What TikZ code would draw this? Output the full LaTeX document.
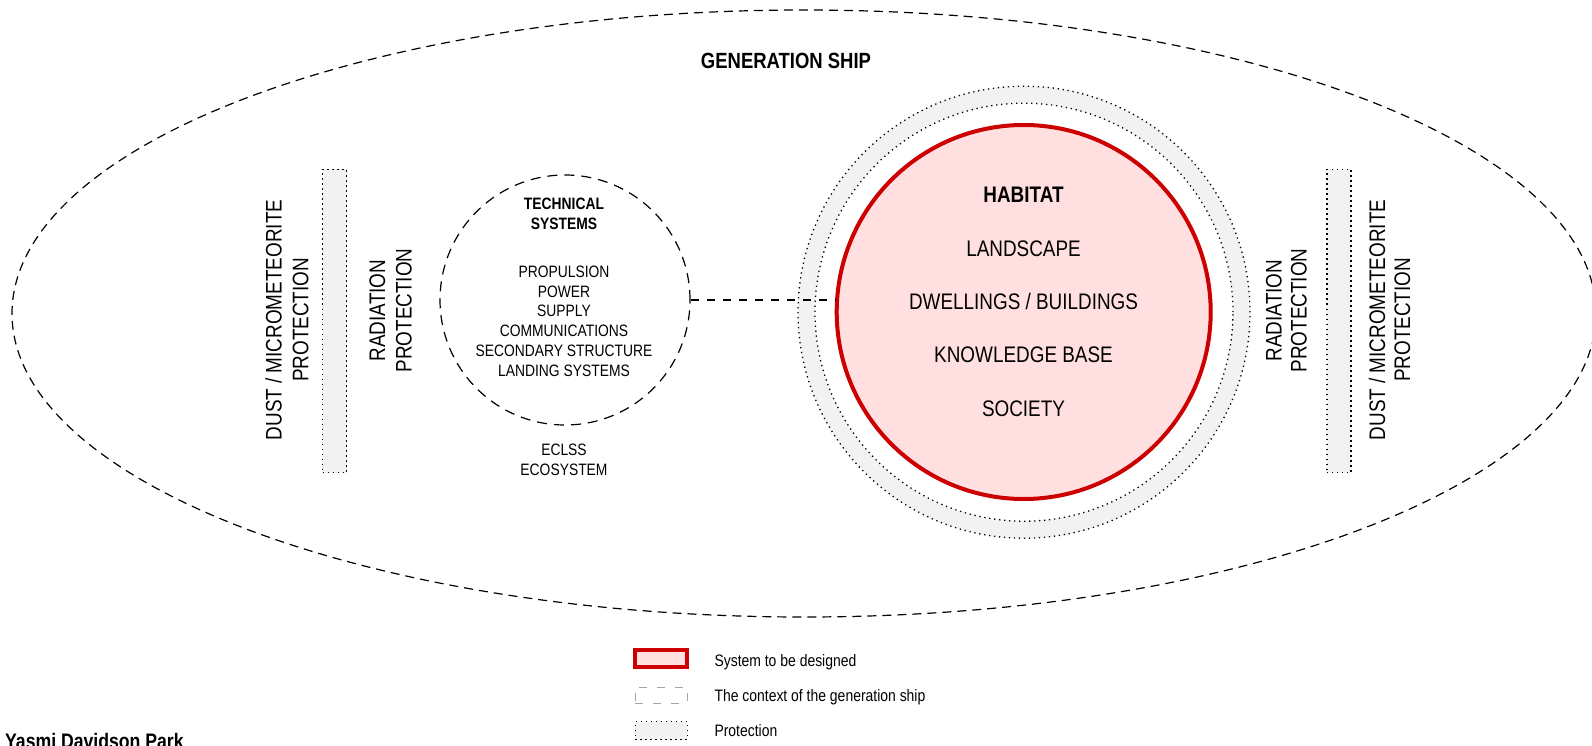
\documentclass[tikz,border=0pt]{standalone}
\usepackage{fontspec}
\setmainfont{Liberation Sans}[FakeStretch=0.84]
\usetikzlibrary{shapes.geometric}
\definecolor{redline}{HTML}{CC0000}
\definecolor{pinkfill}{HTML}{FFDFDF}
\definecolor{protgray}{HTML}{F2F2F2}
\definecolor{legendgray}{HTML}{A6A6A6}
\begin{document}
\begin{tikzpicture}[x=1pt,y=-1pt,
  dotline/.style={line width=1.3pt, dash pattern=on 1.3pt off 3.7pt},
  protbar/.style={draw, dotline, fill=protgray, minimum width=24pt, minimum height=303pt, inner sep=0pt},
  shipline/.style={line width=1.2pt, dash pattern=on 9pt off 6pt},
  techline/.style={line width=1.2pt, dash pattern=on 10pt off 7pt},
  linkline/.style={line width=1.2pt, dash pattern=on 8pt off 8pt},
  habtxt/.style={font=\fontsize{22.5}{27}\selectfont, inner sep=0pt, anchor=base},
  rottxt/.style={font=\fontsize{22.5}{27}\selectfont, inner sep=0pt, anchor=base, rotate=90},
  techtxt/.style={font=\fontsize{16.5}{19.8}\selectfont, inner sep=0pt, anchor=base},
  legtxt/.style={font=\fontsize{16.6}{20}\selectfont, inner sep=0pt, anchor=base west},
]
\useasboundingbox (0,0) rectangle (1592,746);
\fill[white] (0,0) rectangle (1592,746);

% generation ship context
\node[ellipse, draw, shipline, minimum width=1584pt, minimum height=607pt, inner sep=0pt] (ship) at (804,313.5) {};
\node[font=\bfseries\fontsize{22}{26}\selectfont, inner sep=0pt, anchor=base] (shiplabel) at (786,68.5) {GENERATION SHIP};

% protection bars
\node[protbar] (barL) at (334.7,321) {};
\node[protbar] (barR) at (1339,321) {};

% rotated labels left
\node[rottxt] (dustL1) at (281.7,320) {DUST / MICROMETEORITE};
\node[rottxt] (dustL2) at (308.3,320) {PROTECTION};
\node[rottxt] (radL1) at (385,310.5) {RADIATION};
\node[rottxt] (radL2) at (411.7,310.5) {PROTECTION};
% rotated labels right
\node[rottxt] (radR1) at (1281.7,310.5) {RADIATION};
\node[rottxt] (radR2) at (1306.7,310.5) {PROTECTION};
\node[rottxt] (dustR1) at (1385,320) {DUST / MICROMETEORITE};
\node[rottxt] (dustR2) at (1410,320) {PROTECTION};

% technical systems
\node[circle, draw, techline, minimum size=250pt, inner sep=0pt] (tech) at (565,300) {};
\node[techtxt, font=\bfseries\fontsize{16.5}{19.8}\selectfont] (techA) at (564,209.3) {TECHNICAL};
\node[techtxt, font=\bfseries\fontsize{16.5}{19.8}\selectfont] (techB) at (564,229.3) {SYSTEMS};
\node[techtxt] (tech1) at (564,277.3) {PROPULSION};
\node[techtxt] (tech2) at (564,297.1) {POWER};
\node[techtxt] (tech3) at (564,316.9) {SUPPLY};
\node[techtxt] (tech4) at (564,336.7) {COMMUNICATIONS};
\node[techtxt] (tech5) at (564,356.5) {SECONDARY STRUCTURE};
\node[techtxt] (tech6) at (564,376.3) {LANDING SYSTEMS};
\node[techtxt] (eclss) at (564,455) {ECLSS};
\node[techtxt] (ecosys) at (564,475) {ECOSYSTEM};

% protection ring and habitat
\node[circle, draw, dotline, fill=protgray, minimum size=452pt, inner sep=0pt] (ringout) at (1024,312.2) {};
\node[circle, draw, dotline, fill=white, minimum size=418pt, inner sep=0pt] (ringin) at (1024,312.2) {};
\node[circle, draw=redline, line width=4pt, fill=pinkfill, minimum size=374pt, inner sep=0pt] (habitat) at (1023.7,312) {};

\draw[linkline] (tech.east) -- (tech.east -| habitat.west);

\node[habtxt, font=\bfseries\fontsize{22.5}{27}\selectfont] (hab0) at (1023.5,203) {HABITAT};
\node[habtxt] (hab1) at (1023.5,256) {LANDSCAPE};
\node[habtxt] (hab2) at (1023.5,309.3) {DWELLINGS / BUILDINGS};
\node[habtxt] (hab3) at (1023.5,362.7) {KNOWLEDGE BASE};
\node[habtxt] (hab4) at (1023.5,416) {SOCIETY};

% legend
\node[draw=redline, line width=4pt, fill=pinkfill, minimum width=52pt, minimum height=17pt, inner sep=0pt] (legsys) at (661.3,658.8) {};
\node[draw=legendgray, line width=1pt, dash pattern=on 8pt off 10pt, minimum width=52pt, minimum height=16pt, inner sep=0pt] (legctx) at (661.2,695) {};
\node[draw, dotline, fill=protgray, minimum width=52pt, minimum height=17.6pt, inner sep=0pt] (legprot) at (661.2,730.5) {};
\node[legtxt] (legsystxt) at (714.3,666.7) {System to be designed};
\node[legtxt] (legctxtxt) at (714.3,701.7) {The context of the generation ship};
\node[legtxt] (legprottxt) at (714.3,736.7) {Protection};

% credit
\node[font=\bfseries\fontsize{21}{25}\selectfont, inner sep=0pt, anchor=base west] (credit) at (5,748.5) {Yasmi Davidson Park};
\end{tikzpicture}
\end{document}
